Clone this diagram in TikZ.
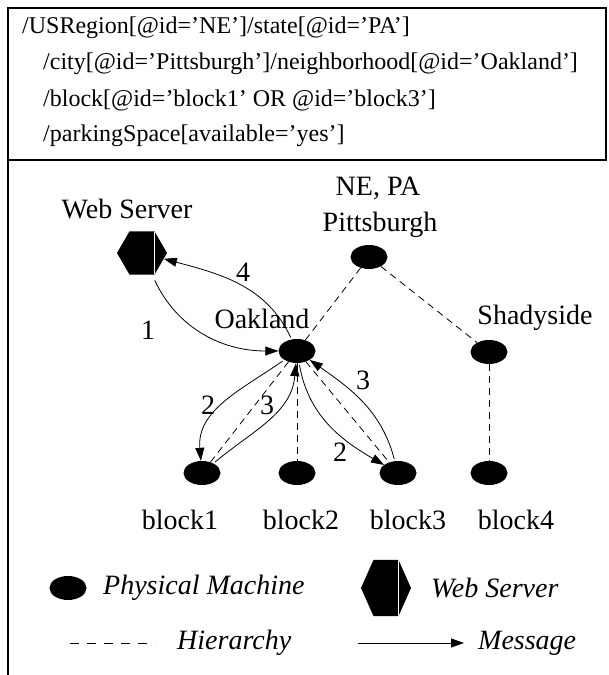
\documentclass[tikz,border=0pt]{standalone}
\usepackage{fontspec}
\setmainfont{Liberation Serif}
\usetikzlibrary{shapes.geometric}
\usetikzlibrary{arrows.meta}
\usetikzlibrary{calc}
\tikzset{machine/.style={ellipse,fill=black,minimum width=37,minimum height=24,inner sep=0}}
\tikzset{server/.style={regular polygon,regular polygon sides=6,fill=black,minimum size=50,inner sep=0,
  path picture={\draw[white,line width=1]
    ($(path picture bounding box.north)!0.5!(path picture bounding box.north east)$) --
    ($(path picture bounding box.south)!0.5!(path picture bounding box.south east)$);}}}

\begin{document}
\begin{tikzpicture}[x=1pt,y=1pt]
  \tikzset{lbl/.style={inner sep=0,font=\fontsize{28}{32}\selectfont}}
  \tikzset{query/.style={anchor=west,inner sep=0,font=\fontsize{24}{28}\selectfont}}
  \tikzset{legendtext/.style={anchor=west,inner sep=0,font=\fontsize{28}{32}\selectfont\itshape}}
  \tikzset{hier/.style={dash pattern=on 7 off 5,line width=0.8}}
  \tikzset{msg/.style={-{Triangle[length=13,width=9]},line width=0.8,shorten <=2}}

  \useasboundingbox (0,0) rectangle (609,675);
  \draw[line width=1.2] (8,515) rectangle (606,667);
  \draw[line width=1.2] (8,515) -- (8,0);

  \node[query] (q1) at (22,647) {/USRegion[@id=’NE’]/state[@id=’PA’]};
  \node[query] (q2) at (43,611) {/city[@id=’Pittsburgh’]/neighborhood[@id=’Oakland’]};
  \node[query] (q3) at (43,575) {/block[@id=’block1’ OR @id=’block3’]};
  \node[query] (q4) at (43,539) {/parkingSpace[available=’yes’]};

  % hierarchy of machines
  \node[server] (ws) at (142,422) {};
  \node[lbl] (wslbl) at (127,466) {Web Server};
  \node[machine] (pitt) at (369,418) {};
  \node[lbl] (nepa) at (378,487) {NE, PA};
  \node[lbl] (pittlbl) at (380,450) {Pittsburgh};
  \node[machine] (oak) at (297,324) {};
  \node[lbl] (oaklbl) at (262,356) {Oakland};
  \node[machine] (shady) at (489,323) {};
  \node[lbl] (shadylbl) at (535,357) {Shadyside};
  \node[machine] (b1) at (202,202) {};
  \node[machine] (b2) at (297,202) {};
  \node[machine] (b3) at (398,202) {};
  \node[machine] (b4) at (489,202) {};
  \node[lbl] (b1lbl) at (180,155) {block1};
  \node[lbl] (b2lbl) at (301,155) {block2};
  \node[lbl] (b3lbl) at (408,155) {block3};
  \node[lbl] (b4lbl) at (516,155) {block4};

  \draw[hier] (pitt) -- (oak);
  \draw[hier] (pitt) -- (shady);
  \draw[hier] (oak) -- (b1);
  \draw[hier] (oak) -- (b2);
  \draw[hier] (oak) -- (b3);
  \draw[hier] (shady) -- (b4);

  % messages
  \draw[msg,shorten <=6] (ws) to[out=-65,in=180] (oak);
  \draw[msg] (oak) to[out=115,in=-15] (ws);
  \draw[msg] (oak) to[out=-145,in=95] (b1);
  \draw[msg] (b1) to[out=40,in=-95] (oak);
  \draw[msg] (oak) to[out=-80,in=150] (b3);
  \draw[msg] (b3) to[out=105,in=-35] (oak);
  \node[lbl] (n1) at (148,345) {1};
  \node[lbl] (n4) at (243,403) {4};
  \node[lbl] (n2a) at (208,270) {2};
  \node[lbl] (n3a) at (267,270) {3};
  \node[lbl] (n3b) at (363,295) {3};
  \node[lbl] (n2b) at (340,223) {2};

  % legend
  \node[machine] (lgpm) at (68,87) {};
  \node[legendtext] (lgpmtxt) at (103,87) {Physical Machine};
  \begin{scope}[shift={(386,87)},yscale=1.3]
    \node[server,transform shape] (lgws) at (0,0) {};
  \end{scope}
  \node[legendtext] (lgwstxt) at (431,87) {Web Server};
  \coordinate (lghs) at (70,32);
  \coordinate (lghe) at (155,32);
  \draw[hier,dash pattern=on 9 off 8] (lghs) -- (lghe);
  \node[legendtext] (lghtxt) at (177,32) {Hierarchy};
  \coordinate (lgms) at (356,32);
  \coordinate (lgme) at (464,32);
  \draw[msg] (lgms) -- (lgme);
  \node[legendtext] (lgmtxt) at (478,32) {Message};
\end{tikzpicture}
\end{document}
